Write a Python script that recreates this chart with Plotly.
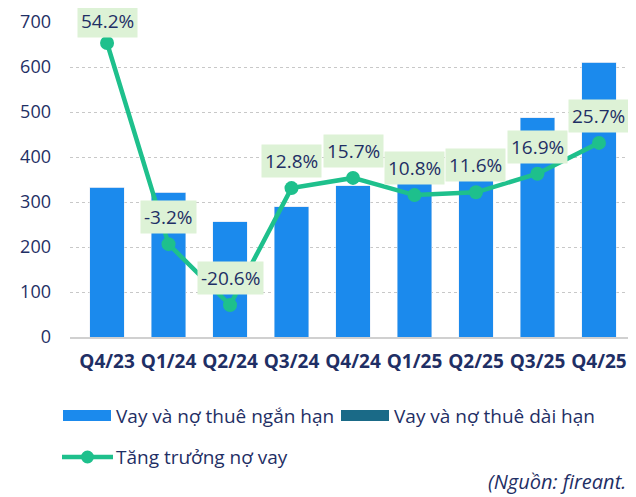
import plotly.graph_objects as go

quarters = ["Q4/23", "Q1/24", "Q2/24", "Q3/24", "Q4/24", "Q1/25", "Q2/25", "Q3/25", "Q4/25"]
short_term = [333, 322, 256, 289, 336, 346, 353, 487, 611]
long_term = [0, 0, 0, 0, 0, 0, 0, 0, 0]
growth = [54.2, -3.2, -20.6, 12.8, 15.7, 10.8, 11.6, 16.9, 25.7]

NAVY = "#1F2F65"
BLUE = "#1B8AED"
TEAL = "#1A6A87"
GREEN = "#1EC08C"
FONT = "Open Sans"

# the page adds an 8px body margin, so the figure is drawn 8px smaller
OFF = 8
W, H = 636 - OFF, 497 - OFF
L, R, T, B = 70 - OFF, 0, 22 - OFF, 160


def px(x):
    return (x - OFF - L) / (W - L - R)


def py(y):
    return (H - B - (y - OFF)) / (H - T - B)


fig = go.Figure()
fig.add_trace(go.Bar(x=quarters, y=short_term, name="Vay và nợ thuê ngắn hạn",
                     marker_color=BLUE, showlegend=False))
fig.add_trace(go.Bar(x=quarters, y=long_term, name="Vay và nợ thuê dài hạn",
                     marker_color=TEAL, showlegend=False))
fig.add_trace(go.Scatter(x=quarters, y=growth, name="Tăng trưởng nợ vay", yaxis="y2",
                         mode="lines+markers", line=dict(color=GREEN, width=4.5),
                         marker=dict(color=GREEN, size=14), showlegend=False,
                         cliponaxis=False))

for i, (q, g) in enumerate(zip(quarters, growth)):
    # the top label would run off the page, so it sits a little lower
    fig.add_annotation(x=q, y=g, yref="y2", text=f"{g:.1f}%", showarrow=False,
                       yshift=22 if i == 0 else 27, bgcolor="#DDF2D6", borderpad=3,
                       font=dict(family=FONT, size=19, color=NAVY))

# legend drawn by hand
shapes = [
    dict(type="rect", x0=px(63), x1=px(111), y0=py(421), y1=py(410), fillcolor=BLUE, line_width=0),
    dict(type="rect", x0=px(341), x1=px(389), y0=py(421), y1=py(410), fillcolor=TEAL, line_width=0),
    dict(type="line", x0=px(62), x1=px(113), y0=py(457), y1=py(457), line=dict(color=GREEN, width=4.5)),
    dict(type="circle", x0=px(81), x1=px(94), y0=py(463.5), y1=py(450.5), fillcolor=GREEN, line_width=0),
]
for s in shapes:
    s.update(xref="paper", yref="paper")
    fig.add_shape(**s)

legend_txt = [("Vay và nợ thuê ngắn hạn", 114, 416),
              ("Vay và nợ thuê dài hạn", 392, 416),
              ("Tăng trưởng nợ vay", 114, 457)]
for txt, x, y in legend_txt:
    fig.add_annotation(x=px(x), y=py(y), xref="paper", yref="paper", text=txt,
                       showarrow=False, xanchor="left", yanchor="middle",
                       font=dict(family=FONT, size=19, color=NAVY))

fig.add_annotation(x=px(628), y=py(481), xref="paper", yref="paper",
                   text="<i>(Nguồn: fireant.</i>", showarrow=False,
                   xanchor="right", yanchor="middle",
                   font=dict(family=FONT, size=20, color=NAVY))

fig.update_layout(
    width=W, height=H,
    margin=dict(l=L, r=R, t=T, b=B),
    barmode="stack", bargap=0.445,
    plot_bgcolor="white", paper_bgcolor="white",
    font=dict(family=FONT, color=NAVY),
    xaxis=dict(tickfont=dict(size=19, color=NAVY, weight="bold"),
               showline=True, linecolor="#D0D0D0", linewidth=2, ticks="",
               ticklabelstandoff=6, automargin=False),
    yaxis=dict(range=[0, 700], dtick=100, tickfont=dict(size=18, color=NAVY),
               showgrid=True, gridcolor="#C8C8C8", griddash="dot", gridwidth=1,
               zeroline=False, ticklabelstandoff=18, automargin=False),
    yaxis2=dict(range=[-29.7, 60.2], overlaying="y", visible=False),
)

fig.write_html("out.html")
